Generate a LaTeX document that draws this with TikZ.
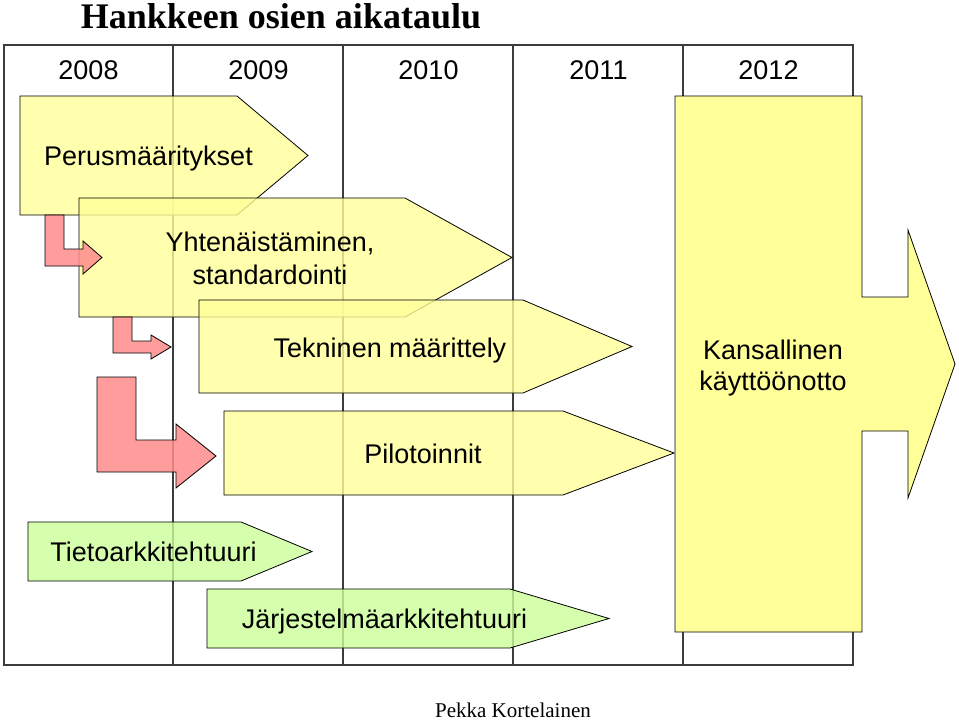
\documentclass[tikz,border=0pt]{standalone}
\usepackage{fontspec}
\setmainfont{Liberation Sans}
\newfontfamily\titlefont{Liberation Serif}
\definecolor{phaseyellow}{RGB}{255,255,153}
\definecolor{archgreen}{RGB}{204,255,153}
\definecolor{shiftred}{RGB}{255,140,140}
\definecolor{gridgray}{RGB}{60,60,60}

\begin{document}
\begin{tikzpicture}[x=1pt,y=1pt,yscale=-1,xscale=1,
  phase/.style={draw=black, line width=0.8pt, fill=phaseyellow, fill opacity=0.8},
  archphase/.style={draw=black, line width=0.8pt, fill=archgreen, fill opacity=0.8},
  shiftarrow/.style={draw=black, line width=0.8pt, fill=shiftred, fill opacity=0.85},
  lbl/.style={anchor=base, inner sep=0pt, font=\fontsize{27}{31}\selectfont}]
\useasboundingbox (0,0) rectangle (959,720);

%Grid: years as columns
\draw [gridgray, line width=1.2pt] (4,45) rectangle (853,665) ;
\foreach \x in {173,343,513,683}
  \draw [gridgray, line width=1.2pt] (\x,45) -- (\x,665) ;

%Shape: Pentagon [Perusmaaritykset]
\draw [phase] (20,96) -- (237,96) -- (308,155.5) -- (237,215) -- (20,215) -- cycle ;
%Shape: Pentagon [Yhtenaistaminen]
\draw [phase] (79,198) -- (405,198) -- (512,257.5) -- (405,317) -- (79,317) -- cycle ;
%Shape: Pentagon [Tekninen maarittely]
\draw [phase] (199,300) -- (523,300) -- (632,346.5) -- (523,393) -- (199,393) -- cycle ;
%Shape: Pentagon [Pilotoinnit]
\draw [phase] (224,411) -- (563,411) -- (674,453) -- (563,495) -- (224,495) -- cycle ;

%Shape: Bent Arrow
\draw [shiftarrow] (45,215) -- (64,215) -- (64,249) -- (83,249) -- (83,241) -- (102,257.5) -- (83,274) -- (83,266) -- (45,266) -- cycle ;
%Shape: Bent Arrow
\draw [shiftarrow] (113,317) -- (132,317) -- (132,341) -- (151,341) -- (151,335) -- (171,347) -- (151,359) -- (151,353) -- (113,353) -- cycle ;
%Shape: Bent Arrow
\draw [shiftarrow] (97,377) -- (136,377) -- (136,440) -- (176,440) -- (176,424) -- (216,456) -- (176,488) -- (176,472) -- (97,472) -- cycle ;

%Shape: Pentagon [Tietoarkkitehtuuri]
\draw [archphase] (28,522) -- (241,522) -- (312,551.5) -- (241,581) -- (28,581) -- cycle ;
%Shape: Pentagon [Jarjestelmaarkkitehtuuri]
\draw [archphase] (207,589) -- (510,589) -- (609,618.5) -- (510,648) -- (207,648) -- cycle ;

%Shape: Block with Right Arrow [Kansallinen kayttoonotto]
\draw [draw=black, line width=0.8pt, fill=phaseyellow] (675,96) -- (862,96) -- (862,297) -- (908,297) -- (908,230) -- (955,364) -- (908,498) -- (908,431) -- (862,431) -- (862,632) -- (675,632) -- cycle ;

% Text Node
\node (title) at (281,28) [anchor=base, inner sep=0pt, font=\titlefont\bfseries\fontsize{36}{40}\selectfont] {Hankkeen osien aikataulu};
% Text Node
\foreach \yr [count=\i from 0] in {2008,2009,2010,2011,2012}
  \node (year\yr) at ({88.5+170*\i},79) [lbl] {\yr};
% Text Node
\node (perus) at (148.5,165) [lbl] {Perusmääritykset};
% Text Node
\node (yhten) at (270,251) [lbl] {Yhtenäistäminen,};
\node (stand) at (270,284) [lbl] {standardointi};
% Text Node
\node (tekn) at (390,357) [lbl] {Tekninen määrittely};
% Text Node
\node (pilot) at (423,463) [lbl] {Pilotoinnit};
% Text Node
\node (kans) at (773,359) [lbl] {Kansallinen};
\node (kaytto) at (773,390) [lbl] {käyttöönotto};
% Text Node
\node (tieto) at (153.5,561) [lbl] {Tietoarkkitehtuuri};
% Text Node
\node (jarj) at (384.5,628) [lbl] {Järjestelmäarkkitehtuuri};
% Text Node
\node (author) at (513,717) [anchor=base, inner sep=0pt, font=\titlefont\fontsize{21}{24}\selectfont] {Pekka Kortelainen};
\end{tikzpicture}
\end{document}
